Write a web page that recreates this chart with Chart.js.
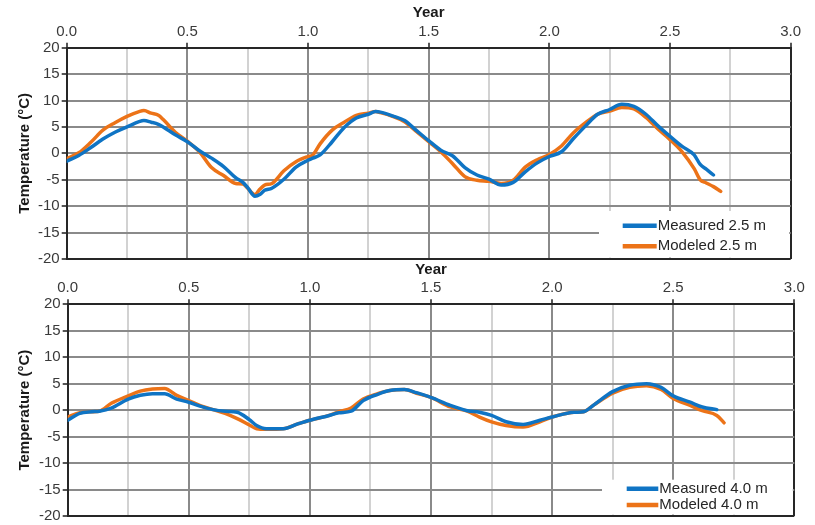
<!DOCTYPE html>
<html>
<head>
<meta charset="utf-8">
<script src="https://cdn.jsdelivr.net/npm/chart.js@4/dist/chart.umd.min.js"></script>
<style>
  html, body { margin: 0; padding: 0; background: #fff; overflow: hidden; }
  #wrap { position: relative; width: 815px; height: 525px; }
  canvas { position: absolute; left: 0; }
  #c1 { top: 0; }
  #c2 { top: 257px; }
</style>
</head>
<body>
<div id="wrap">
  <canvas id="c1" width="815" height="270"></canvas>
  <canvas id="c2" width="815" height="270"></canvas>
</div>
<script>
// Ground temperature at 2.5 m depth (years since start, °C)
const years25 = [0.00, 0.05, 0.10, 0.15, 0.20, 0.25, 0.30, 0.32, 0.35, 0.38, 0.40, 0.45, 0.50, 0.55, 0.60, 0.65, 0.70, 0.73, 0.75, 0.78, 0.80, 0.82, 0.85, 0.90, 0.95, 1.00, 1.02, 1.05, 1.10, 1.15, 1.20, 1.25, 1.28, 1.30, 1.35, 1.40, 1.45, 1.50, 1.55, 1.60, 1.65, 1.70, 1.75, 1.80, 1.85, 1.90, 1.95, 2.00, 2.05, 2.10, 2.15, 2.20, 2.25, 2.30, 2.35, 2.40, 2.45, 2.50, 2.55, 2.60, 2.625, 2.65, 2.68, 2.71];
const measured25 = [-1.5, -0.4, 1.1, 2.7, 4.0, 5.0, 6.0, 6.2, 5.9, 5.5, 5.0, 3.5, 2.2, 0.5, -0.9, -2.5, -4.6, -5.5, -6.5, -8.1, -7.8, -7.0, -6.6, -4.9, -2.6, -1.3, -0.9, -0.3, 2.2, 4.9, 6.7, 7.4, 7.9, 7.8, 7.1, 6.2, 4.3, 2.4, 0.6, -0.5, -2.7, -4.1, -4.9, -6.0, -5.5, -3.5, -1.8, -0.6, 0.3, 2.8, 5.2, 7.4, 8.3, 9.3, 8.9, 7.4, 5.2, 3.2, 1.3, -0.3, -2.1, -3.0, -4.1, null];
const modeled25 = [-1.0, 0.1, 2.1, 4.4, 5.8, 7.0, 7.9, 8.1, 7.6, 7.2, 6.4, 4.0, 2.3, 0.3, -2.7, -4.2, -5.7, -5.8, -6.6, -7.8, -6.8, -6.0, -5.7, -3.3, -1.6, -0.6, -0.3, 1.8, 4.4, 5.9, 7.2, 7.6, 7.9, 7.7, 7.0, 6.0, 4.1, 2.2, 0.3, -2.0, -4.4, -5.1, -5.3, -5.7, -5.1, -2.6, -1.2, -0.2, 1.4, 3.9, 5.8, 7.4, 8.0, 8.7, 8.4, 6.8, 4.6, 2.6, 0.3, -2.9, -5.0, -5.6, -6.3, -7.2];

// Ground temperature at 4.0 m depth (years since start, °C)
const years40 = [0.00, 0.05, 0.10, 0.13, 0.18, 0.25, 0.30, 0.35, 0.40, 0.45, 0.50, 0.55, 0.60, 0.65, 0.70, 0.75, 0.78, 0.82, 0.89, 0.95, 1.00, 1.08, 1.12, 1.17, 1.22, 1.28, 1.33, 1.39, 1.44, 1.50, 1.58, 1.65, 1.70, 1.75, 1.81, 1.88, 1.95, 2.00, 2.09, 2.13, 2.17, 2.25, 2.32, 2.39, 2.45, 2.50, 2.57, 2.62, 2.68, 2.71];
const measured40 = [-1.9, -0.6, -0.3, -0.2, 0.4, 2.1, 2.8, 3.1, 3.1, 2.1, 1.5, 0.7, 0.1, -0.2, -0.4, -1.8, -2.9, -3.5, -3.5, -2.6, -1.9, -1.0, -0.5, -0.2, 1.8, 3.0, 3.7, 3.9, 3.3, 2.4, 0.9, -0.1, -0.4, -1.0, -2.2, -2.7, -1.9, -1.3, -0.4, -0.3, 0.9, 3.5, 4.7, 5.0, 4.3, 2.7, 1.5, 0.6, 0.1, null];
const modeled40 = [-1.3, -0.5, -0.3, -0.2, 1.3, 2.7, 3.6, 4.0, 4.1, 2.8, 1.8, 0.8, 0.1, -0.6, -1.6, -2.8, -3.5, -3.6, -3.5, -2.6, -1.9, -1.0, -0.3, 0.4, 2.1, 3.1, 3.7, 3.9, 3.2, 2.4, 0.6, -0.2, -1.3, -2.2, -2.9, -3.2, -2.2, -1.3, -0.4, -0.3, 0.9, 3.2, 4.3, 4.6, 3.9, 2.2, 0.9, -0.1, -1.0, -2.4];

const yearTicks = [0, 0.5, 1.0, 1.5, 2.0, 2.5, 3.0];
const tempTicks = [-20, -15, -10, -5, 0, 5, 10, 15, 20];

const BLUE = '#0F74C4';
const ORANGE = '#EC7318';
const FONT = "'Liberation Sans', Arial, sans-serif";

// White legend panel in the lower right corner of the plot area
const boxLegend = {
  id: 'boxLegend',
  afterDatasetsDraw(chart, args, o) {
    const { ctx, chartArea: a } = chart;
    ctx.save();
    ctx.fillStyle = '#ffffff';
    ctx.fillRect(a.right - o.boxW, a.bottom - o.boxH, o.boxW - 1.5, o.boxH - 1.5);
    ctx.font = '15px ' + FONT;
    ctx.textBaseline = 'middle';
    ctx.textAlign = 'left';
    chart.data.datasets.forEach((ds, i) => {
      const y = a.bottom - o.rows[i];
      ctx.strokeStyle = ds.borderColor;
      ctx.lineWidth = 4.5;
      ctx.beginPath();
      ctx.moveTo(a.right - o.lineX0, y);
      ctx.lineTo(a.right - o.lineX1, y);
      ctx.stroke();
      ctx.fillStyle = '#262626';
      ctx.fillText(ds.label, a.right - o.textX, y);
    });
    ctx.restore();
  }
};

function pts(xs, ys) {
  return xs.map((x, i) => ({ x: x, y: ys[i] }));
}

function isMajor(v) {
  return yearTicks.some(t => Math.abs(t - v) < 1e-6);
}

function makeChart(id, years, meas, model, depth, geom) {
  new Chart(document.getElementById(id), {
    type: 'line',
    data: {
      datasets: [
        { label: 'Measured ' + depth, data: pts(years, meas), borderColor: BLUE, borderWidth: 3.5, pointRadius: 0, cubicInterpolationMode: 'monotone', spanGaps: false, borderCapStyle: 'round', borderJoinStyle: 'round' },
        { label: 'Modeled ' + depth, data: pts(years, model), borderColor: ORANGE, borderWidth: 3.5, pointRadius: 0, cubicInterpolationMode: 'monotone', spanGaps: false, borderCapStyle: 'round', borderJoinStyle: 'round' }
      ]
    },
    options: {
      responsive: false,
      animation: false,
      events: [],
      layout: { padding: { left: 0, top: 0, right: geom.padRight, bottom: geom.padBottom } },
      plugins: {
        legend: { display: false },
        tooltip: { enabled: false },
        boxLegend: geom.legend
      },
      scales: {
        x: {
          type: 'linear',
          position: 'top',
          min: 0, max: 3,
          afterFit: s => { s.height = geom.xAxisH; },
          ticks: {
            stepSize: 0.25,
            autoSkip: false,
            maxRotation: 0,
            padding: 2,
            color: '#3a3a3a',
            font: { family: FONT, size: 15 },
            callback: v => isMajor(v) ? Number(v).toFixed(1) : ''
          },
          grid: {
            lineWidth: 2,
            tickLength: 5,
            color: c => {
              const v = c.tick ? c.tick.value : 0;
              if (Math.abs(v - 3) < 1e-6) return '#262626';
              return isMajor(v) ? '#8a8a8a' : '#d2d2d2';
            },
            tickColor: c => (c.tick && isMajor(c.tick.value)) ? '#555555' : 'rgba(0,0,0,0)'
          },
          border: { color: '#262626', width: 2 },
          title: {
            display: true,
            text: 'Year',
            color: '#1a1a1a',
            font: { family: FONT, size: 15, weight: 'bold' },
            padding: { top: 4, bottom: 0 }
          }
        },
        y: {
          min: -20, max: 20,
          afterFit: s => { s.width = geom.yAxisW; },
          afterBuildTicks: s => { s.ticks = tempTicks.map(v => ({ value: v })); },
          ticks: {
            padding: 2,
            color: '#3a3a3a',
            font: { family: FONT, size: 15 }
          },
          grid: {
            lineWidth: 2,
            tickLength: 5,
            color: c => (c.tick && c.tick.value === -20) ? '#262626' : '#8a8a8a',
            tickColor: '#555555'
          },
          border: { color: '#262626', width: 2 },
          title: {
            display: true,
            text: 'Temperature (°C)',
            color: '#1a1a1a',
            font: { family: FONT, size: 15, weight: 'bold' },
            padding: { top: 16, bottom: 0 }
          }
        }
      }
    },
    plugins: [boxLegend]
  });
}

makeChart('c1', years25, measured25, modeled25, '2.5 m', {
  xAxisH: 47.7, yAxisW: 66.7, padRight: 24.3, padBottom: 10,
  legend: { boxW: 191.7, boxH: 48, lineX0: 168, lineX1: 134, textX: 133, rows: [33.3, 12.7] }
});

makeChart('c2', years40, measured40, modeled40, '4.0 m', {
  xAxisH: 47.3, yAxisW: 67.7, padRight: 20.7, padBottom: 8.7,
  legend: { boxW: 192.3, boxH: 36.3, lineX0: 167.6, lineX1: 136, textX: 135, rows: [27.3, 11] }
});
</script>
</body>
</html>
